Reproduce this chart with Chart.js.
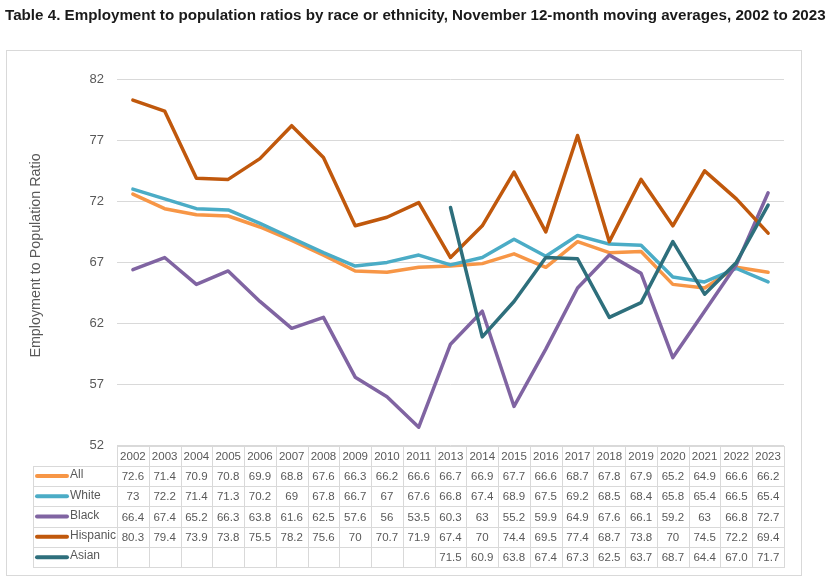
<!DOCTYPE html>
<html>
<head>
<meta charset="utf-8">
<script src="https://cdn.jsdelivr.net/npm/chart.js@4.4.1/dist/chart.umd.min.js"></script>
<style>
  html, body { margin: 0; padding: 0; background: #ffffff; }
  #wrap { width: 831px; height: 577px; position: relative; }
</style>
</head>
<body>
<div id="wrap"><canvas id="c"></canvas></div>
<script>
// ---- Data ----
const chartTitle = 'Table 4. Employment to population ratios by race or ethnicity, November 12-month moving averages, 2002 to 2023';
const yAxisTitle = 'Employment to Population Ratio';
const years = ['2002','2003','2004','2005','2006','2007','2008','2009','2010','2011','2013','2014','2015','2016','2017','2018','2019','2020','2021','2022','2023'];
const yTicks = [52, 57, 62, 67, 72, 77, 82];
const seriesNames = ['All', 'White', 'Black', 'Hispanic', 'Asian'];
const allVals      = [72.6, 71.4, 70.9, 70.8, 69.9, 68.8, 67.6, 66.3, 66.2, 66.6, 66.7, 66.9, 67.7, 66.6, 68.7, 67.8, 67.9, 65.2, 64.9, 66.6, 66.2];
const whiteVals    = [73, 72.2, 71.4, 71.3, 70.2, 69, 67.8, 66.7, 67, 67.6, 66.8, 67.4, 68.9, 67.5, 69.2, 68.5, 68.4, 65.8, 65.4, 66.5, 65.4];
const blackVals    = [66.4, 67.4, 65.2, 66.3, 63.8, 61.6, 62.5, 57.6, 56, 53.5, 60.3, 63, 55.2, 59.9, 64.9, 67.6, 66.1, 59.2, 63, 66.8, 72.7];
const hispanicVals = [80.3, 79.4, 73.9, 73.8, 75.5, 78.2, 75.6, 70, 70.7, 71.9, 67.4, 70, 74.4, 69.5, 77.4, 68.7, 73.8, 70, 74.5, 72.2, 69.4];
const asianVals    = [null, null, null, null, null, null, null, null, null, null, 71.5, 60.9, 63.8, 67.4, 67.3, 62.5, 63.7, 68.7, 64.4, 67.0, 71.7];
const asianDecimals = 1; // the table prints Asian values with one decimal (e.g. "67.0")

// ---- Styles ----
const seriesColors = ['#F79646', '#4BACC6', '#8064A2', '#C0580C', '#2E6F7C'];
const textGray = '#595959';
const gridGray = '#d9d9d9';
const tableFont = '11.5px "Liberation Sans", Arial, sans-serif';

const seriesValues = [allVals, whiteVals, blackVals, hispanicVals, asianVals];
function fmt(si, v) {
  if (v === null || v === undefined) return '';
  if (si === 4) return v.toFixed(asianDecimals);
  return String(v);
}

const crisp = v => Math.round(v) + 0.5;

const decorPlugin = {
  id: 'decor',
  beforeDraw(chart) {
    const ctx = chart.ctx;
    ctx.save();
    ctx.fillStyle = '#ffffff';
    ctx.fillRect(0, 0, chart.width, chart.height);
    // outer frame
    ctx.strokeStyle = gridGray;
    ctx.lineWidth = 1;
    ctx.strokeRect(6.5, 50.5, 795, 525);
    // main title fitted to width
    let size = 15;
    ctx.font = 'bold ' + size + 'px "Liberation Sans", Arial, sans-serif';
    const w = ctx.measureText(chartTitle).width;
    size = size * 821 / w;
    ctx.font = 'bold ' + size.toFixed(2) + 'px "Liberation Sans", Arial, sans-serif';
    ctx.fillStyle = '#1a1a1a';
    ctx.textBaseline = 'alphabetic';
    ctx.textAlign = 'left';
    ctx.fillText(chartTitle, 5, 20);
    // y axis title
    ctx.translate(36, 255.5);
    ctx.rotate(-Math.PI / 2);
    ctx.font = '14.3px "Liberation Sans", Arial, sans-serif';
    ctx.fillStyle = textGray;
    ctx.textAlign = 'center';
    ctx.textBaseline = 'middle';
    ctx.fillText(yAxisTitle, 0, 0);
    ctx.restore();
  },
  afterDraw(chart) {
    const ctx = chart.ctx;
    const area = chart.chartArea;
    const xs = chart.scales.x;
    const n = years.length;
    const left = area.left, right = area.right;
    const colW = (right - left) / n;
    const top = area.bottom;
    const rowH = 20.3;
    const legLeft = 32.7;
    const rows = seriesNames.length + 1;
    ctx.save();
    ctx.strokeStyle = gridGray;
    ctx.lineWidth = 1;
    ctx.beginPath();
    for (let r = 0; r <= rows; r++) {
      const y = crisp(top + r * rowH);
      const x0 = r === 0 ? left : legLeft;
      ctx.moveTo(Math.round(x0), y);
      ctx.lineTo(Math.round(right) + 1, y);
    }
    ctx.moveTo(crisp(legLeft), crisp(top + rowH));
    ctx.lineTo(crisp(legLeft), crisp(top + rows * rowH));
    for (let c = 0; c <= n; c++) {
      const x = crisp(left + c * colW);
      ctx.moveTo(x, crisp(top));
      ctx.lineTo(x, crisp(top + rows * rowH));
    }
    ctx.stroke();

    ctx.font = tableFont;
    ctx.fillStyle = textGray;
    ctx.textAlign = 'center';
    ctx.textBaseline = 'middle';
    for (let i = 0; i < n; i++) {
      const cx = xs.getPixelForValue(i);
      ctx.fillText(years[i], cx, top + rowH / 2 + 1);
    }
    for (let s = 0; s < seriesNames.length; s++) {
      const cy = top + (s + 1) * rowH + rowH / 2 + 1;
      // legend key
      ctx.strokeStyle = seriesColors[s];
      ctx.lineWidth = 4;
      ctx.lineCap = 'round';
      ctx.beginPath();
      ctx.moveTo(37, cy - 1);
      ctx.lineTo(67, cy - 1);
      ctx.stroke();
      ctx.textAlign = 'left';
      ctx.fillStyle = textGray;
      ctx.font = '12px "Liberation Sans", Arial, sans-serif';
      ctx.fillText(seriesNames[s], 70, cy - 2);
      ctx.font = tableFont;
      ctx.textAlign = 'center';
      const vals = seriesValues[s];
      for (let i = 0; i < n; i++) {
        const t = fmt(s, vals[i]);
        if (t) ctx.fillText(t, xs.getPixelForValue(i), cy);
      }
    }
    ctx.restore();
  }
};

const datasets = seriesNames.map((name, i) => ({
  label: name,
  data: seriesValues[i],
  borderColor: seriesColors[i],
  backgroundColor: seriesColors[i],
  borderWidth: 3.5,
  pointRadius: 0,
  pointHoverRadius: 0,
  tension: 0,
  fill: false,
  spanGaps: false,
  borderJoinStyle: 'round',
  borderCapStyle: 'round',
  order: seriesNames.length - i
}));

new Chart(document.getElementById('c'), {
  type: 'line',
  data: { labels: years, datasets },
  plugins: [decorPlugin],
  options: {
    responsive: true,
    maintainAspectRatio: false,
    animation: false,
    events: [],
    layout: { padding: { left: 6, right: 47, top: 79.3, bottom: 131.5 } },
    plugins: {
      legend: { display: false },
      title: { display: false },
      tooltip: { enabled: false }
    },
    scales: {
      x: {
        type: 'category',
        display: false,
        offset: true
      },
      y: {
        min: yTicks[0],
        max: yTicks[yTicks.length - 1],
        afterBuildTicks(scale) { scale.ticks = yTicks.map(v => ({ value: v })); },
        afterFit(scale) { scale.width = 111; scale.paddingTop = 0; scale.paddingBottom = 0; },
        border: { display: false },
        grid: { color: gridGray, lineWidth: 1, drawTicks: false },
        ticks: {
          color: textGray,
          padding: 13,
          font: { family: '"Liberation Sans", Arial, sans-serif', size: 13 }
        }
      }
    }
  }
});
</script>
</body>
</html>
